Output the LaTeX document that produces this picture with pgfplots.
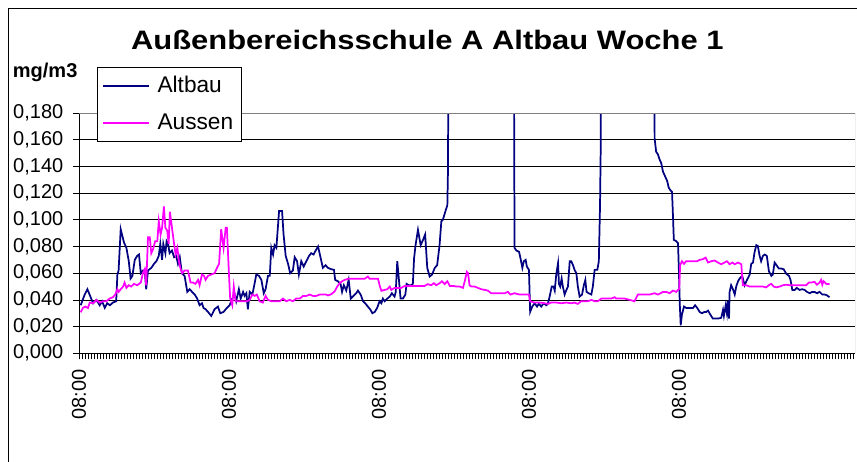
\documentclass[border=0pt]{standalone}
\usepackage{pgfplots}
\pgfplotsset{compat=1.18}
\usepackage{fontspec}
\setmainfont{Liberation Sans}
\definecolor{altbau}{RGB}{0,0,128}
\definecolor{aussen}{RGB}{255,0,255}
\begin{document}
\begin{tikzpicture}
\useasboundingbox (0,0) rectangle (642.75pt,345.75pt);
\draw[line width=0.75pt] (6pt,-5pt) -- (6pt,339pt) -- (650pt,339pt);
\node[anchor=base, inner sep=0pt, font=\bfseries\fontsize{20}{24}\selectfont] at (320.5pt,308.25pt) {\scalebox{1.16}[1]{Außenbereichsschule A Altbau Woche 1}};
\node[anchor=base west, inner sep=0pt, font=\bfseries\fontsize{15}{18}\selectfont] at (9.5pt,287.5pt) {mg/m3};
\begin{axis}[
  at={(59.25pt,80.78pt)}, anchor=south west,
  scale only axis, width=582pt, height=180.2pt,
  xmin=0, xmax=258.7, ymin=0, ymax=0.18,
  axis line style={draw=none},
  tick align=outside,
  xtick pos=bottom, ytick pos=left,
  xtick={0,50,100,150,200},
  xticklabels={08:00,08:00,08:00,08:00,08:00},
  minor xtick={0,1,...,258},
  ytick={0,0.02,0.04,0.06,0.08,0.1,0.12,0.14,0.16,0.18},
  yticklabels={{0,000},{0,020},{0,040},{0,060},{0,080},{0,100},{0,120},{0,140},{0,160},{0,180}},
  major tick length=4.5pt, minor tick length=4.5pt,
  every tick/.style={black, line width=0.6pt},
  minor tick style={black, line width=0.6pt},
  ymajorgrids, major grid style={black, line width=0.6pt},
  tick label style={font=\fontsize{15}{18}\selectfont},
  xticklabel style={rotate=90, anchor=east},
  xticklabel shift=4pt,
  yticklabel shift=3.75pt,
  clip=true,
  legend style={at={(0.0228,1.1927)}, anchor=north west, draw=black, line width=0.75pt, fill=white,
    font=\fontsize{17}{20}\selectfont, inner xsep=4pt, inner ysep=5pt, row sep=10.5pt,
    /tikz/every odd column/.append style={column sep=4pt}},
  legend cell align=left,
  legend image code/.code={\draw[#1] (0pt,0pt) -- (34pt,0pt);},
]
\addplot[altbau, line width=1.3pt] coordinates {
(0.56,0.036) (1.9,0.044) (2.8,0.048) (3.7,0.043) (4.7,0.0375) (5.8,0.040) (6.9,0.036) (7.7,0.039) (8.6,0.034) (9.4,0.0375) (10.3,0.036) (11.3,0.038) (12.4,0.039) (12.8,0.059) (13.2,0.062) (13.9,0.093) (15.0,0.083) (15.8,0.079) (16.6,0.069) (17.2,0.056) (17.8,0.058) (18.6,0.070) (19.4,0.073) (20.0,0.074) (20.6,0.060) (21.3,0.062) (21.9,0.062) (22.4,0.048) (23.0,0.062) (24.1,0.064) (25.0,0.067) (25.8,0.069) (26.6,0.073) (27.1,0.082) (27.7,0.070) (28.1,0.082) (28.8,0.075) (29.2,0.084) (29.7,0.082) (30.2,0.075) (31.0,0.077) (31.7,0.072) (32.4,0.073) (33.0,0.067) (33.6,0.072) (34.3,0.060) (35.2,0.058) (36.1,0.046) (36.9,0.048) (37.7,0.046) (38.6,0.044) (39.4,0.041) (40.2,0.036) (41.0,0.0375)
(41.5,0.034) (42.2,0.033) (43,0.031) (44.1,0.028) (45.2,0.033) (46.3,0.035) (47.1,0.030) (48.2,0.031) (49.3,0.034) (50.2,0.036) (51.1,0.041) (51.9,0.044) (52.4,0.039) (53.3,0.048) (53.9,0.041) (54.7,0.046) (55.2,0.043) (55.8,0.045) (56.3,0.033) (56.9,0.046) (57.8,0.044) (58.6,0.053) (59.1,0.059) (60,0.058) (60.8,0.055) (61.6,0.045) (62.2,0.048) (63,0.058) (63.6,0.058) (64.1,0.079) (64.7,0.074) (65.2,0.081) (65.8,0.079) (66.7,0.1066) (67.7,0.1066) (68.2,0.089) (68.9,0.073) (69.7,0.067) (70.4,0.060) (71.3,0.062) (71.9,0.072) (72.7,0.069) (73.3,0.059) (74.1,0.069) (74.9,0.065) (75.8,0.069) (76.7,0.073) (77.4,0.075) (78.2,0.074) (78.9,0.077) (79.7,0.080) (80.4,0.073) (81.3,0.064) (82.2,0.066)
(83.0,0.064) (84.1,0.063) (85,0.0625) (85.4,0.055) (86.3,0.054) (87.2,0.052) (87.7,0.046) (88.3,0.051) (89.1,0.047) (89.9,0.055) (90.6,0.041) (91.3,0.0425) (92.4,0.045) (93,0.047) (93.9,0.044) (94.7,0.039) (95.4,0.0375) (96.3,0.035) (97.2,0.0325) (97.8,0.030) (98.6,0.031) (99.4,0.034) (100.2,0.039) (100.8,0.0375) (101.3,0.041) (101.9,0.039) (102.8,0.041) (103.6,0.0425) (104.3,0.045) (105.2,0.0425) (105.6,0.046) (106.1,0.069) (106.7,0.054) (107.2,0.041) (108,0.041) (108.8,0.044) (109.2,0.052) (109.9,0.051) (110.8,0.051) (111.3,0.052) (111.7,0.071) (112.2,0.081) (113,0.0925) (113.9,0.081) (114.7,0.085) (115.4,0.089) (116.1,0.064) (116.9,0.0575) (117.7,0.059) (118.6,0.064) (119.4,0.066) (120.2,0.081) (120.8,0.099) (121.3,0.100) (122.1,0.106) (122.8,0.111) (123.0,0.136) (123.7,0.5) (144.6,0.5)
(145.2,0.079) (145.8,0.077) (146.7,0.076) (147.2,0.071) (147.8,0.064) (148.3,0.069) (148.9,0.070) (149.3,0.065) (150,0.0625) (150.4,0.031) (151.1,0.035) (151.9,0.0375) (152.7,0.035) (153.3,0.037) (154.1,0.035) (154.9,0.0375) (155.8,0.036) (156.3,0.037) (156.9,0.0425) (157.6,0.050) (158.2,0.050) (158.6,0.047) (159.1,0.059) (159.7,0.0675) (160,0.052) (160.4,0.050) (160.9,0.056) (161.3,0.050) (161.9,0.044) (162.4,0.047) (163,0.050) (163.6,0.069) (164.1,0.069) (164.7,0.066) (165.2,0.0625) (165.8,0.060)
(166.3,0.050) (166.9,0.0425) (167.7,0.044) (168.3,0.051) (168.8,0.055) (169.2,0.046) (169.9,0.045) (170.8,0.044) (171.3,0.050) (171.9,0.0625) (172.8,0.0625) (173.3,0.069) (173.7,0.111) (173.9,0.149) (174.3,0.5) (191.5,0.5) (191.9,0.161) (192.4,0.151) (193.0,0.149) (193.6,0.145) (194.1,0.1425) (194.7,0.136) (195.4,0.1325) (196.1,0.129) (196.6,0.124) (197.2,0.122) (197.7,0.121) (198.0,0.104) (198.3,0.085) (199.1,0.084) (199.7,0.0825) (200.0,0.061) (200.3,0.036) (200.6,0.021) (201.0,0.029) (201.7,0.035) (202.4,0.034) (203.6,0.034) (204.7,0.034) (205.4,0.036) (206.1,0.034) (206.9,0.031) (207.7,0.030)
(208.5,0.031) (209.1,0.031) (209.7,0.032) (210.2,0.030) (211.3,0.026) (213,0.026) (214.1,0.0266) (214.7,0.0325) (215,0.028) (215.6,0.036) (216,0.030) (216.3,0.039) (216.7,0.026) (216.9,0.046) (217.4,0.051) (218,0.048) (218.6,0.044) (219.1,0.050) (219.7,0.054) (220.4,0.0565) (221.1,0.058) (221.9,0.051) (222.7,0.055) (223.6,0.059) (224.1,0.067) (224.7,0.068) (225.2,0.0755) (225.8,0.081) (226.3,0.0805) (226.9,0.073) (227.4,0.069) (228,0.073) (228.6,0.074) (229.3,0.073) (230,0.0615) (230.8,0.058) (231.3,0.059) (231.9,0.068) (232.4,0.0665) (233.3,0.0635) (234.1,0.0635) (234.9,0.063) (235.8,0.0595) (236.7,0.058) (237.2,0.055) (237.8,0.0475) (238.6,0.0475) (239.3,0.049) (240.2,0.0475) (241.1,0.048) (241.9,0.0475) (242.7,0.046) (243.6,0.045) (244.4,0.046) (245.2,0.046) (246,0.045) (246.9,0.046) (247.8,0.044) (248.6,0.044) (249.3,0.0435) (250.2,0.042)
};
\addlegendentry{Altbau}
\addplot[aussen, line width=1.3pt] coordinates {
(0.56,0.0307) (1.3,0.034) (2.1,0.035) (3.0,0.034) (3.6,0.038) (4.7,0.0375) (5.8,0.040) (6.9,0.038) (8.0,0.039) (9.1,0.039) (10.2,0.041) (11.3,0.042) (12.1,0.044) (12.8,0.048) (13.2,0.046) (13.9,0.048) (14.7,0.050) (15.2,0.053) (15.8,0.049) (16.6,0.051) (17.4,0.050) (18.3,0.052) (19.4,0.051) (20.6,0.053) (21.3,0.060) (21.9,0.063) (22.4,0.051) (23.0,0.087) (23.6,0.087) (24.1,0.075) (24.7,0.078) (25.4,0.084) (26.1,0.084) (26.6,0.099) (27.2,0.089) (27.7,0.094) (28.3,0.110) (28.8,0.094) (29.4,0.092) (29.9,0.082) (30.3,0.106) (31.0,0.094) (31.7,0.082) (32.2,0.074) (32.8,0.079) (33.3,0.069) (33.9,0.063) (34.4,0.060) (35.2,0.062) (36.3,0.062) (37.2,0.053) (38.0,0.053) (38.8,0.052) (39.7,0.055) (40.2,0.051) (41.0,0.059) (41.7,0.058)
(42.2,0.055) (43,0.058) (44.1,0.059) (45.2,0.060) (46,0.064) (46.7,0.067) (47.4,0.093) (48.2,0.079) (48.9,0.094) (49.3,0.094) (50,0.059) (50.4,0.041) (51.1,0.036) (51.6,0.050) (52.2,0.039) (53.6,0.039) (55.2,0.039) (56,0.039) (56.9,0.040) (57.8,0.044) (58.6,0.043) (59.3,0.044) (60.2,0.039) (61.3,0.038) (62.2,0.043) (63,0.040) (64.1,0.039) (65.2,0.039) (66.9,0.039) (68,0.041) (69.1,0.039) (70.2,0.040) (71.3,0.039) (72.4,0.041) (73.6,0.041) (74.7,0.043) (75.8,0.043) (76.9,0.044) (78,0.043) (79.1,0.043) (80.2,0.044) (81.3,0.044) (82.4,0.044)
(83,0.0433) (84.1,0.0443) (85.2,0.0463) (86.1,0.050) (86.9,0.0525) (87.7,0.054) (88.6,0.055) (89.7,0.0558) (90.8,0.0558) (91.9,0.0558) (93.6,0.0558) (95.2,0.0558) (96.3,0.0575) (96.9,0.0558) (98.6,0.0558) (99.7,0.0558) (100.2,0.051) (100.8,0.0468) (101.9,0.0475) (102.8,0.048) (103.6,0.050) (104.1,0.0475) (105.2,0.049) (106.3,0.049) (107.4,0.049) (108.6,0.0505) (109.7,0.0505) (110.8,0.0505) (111.9,0.0505) (113,0.0505) (114.1,0.0505) (115.2,0.0505) (116.3,0.0518) (117.4,0.051) (118.3,0.0525) (119.1,0.051) (120.2,0.0525) (121,0.054) (121.9,0.0518) (122.8,0.054) (123.6,0.0505)
(124.7,0.0505) (125.8,0.050) (126.9,0.050) (128,0.049) (128.6,0.054) (129.3,0.061) (129.7,0.060) (130.2,0.051) (130.8,0.050) (131.9,0.050) (133,0.049) (134.1,0.048) (135.2,0.0475) (136.3,0.047) (137.4,0.045) (138.6,0.045) (140.2,0.045) (141.9,0.045) (143,0.046) (143.8,0.044) (145.2,0.045) (146.9,0.044) (148.6,0.044) (150,0.044) (150.4,0.039) (151.9,0.038) (153.6,0.038) (155.2,0.0375) (156.3,0.037) (157.4,0.038) (159.1,0.038) (160.8,0.0375) (162.4,0.038) (164.1,0.0375) (165.2,0.038)
(166.3,0.037) (167.4,0.039) (168.6,0.039) (169.7,0.039) (170.8,0.040) (171.9,0.039) (173,0.039) (174.1,0.041) (175.2,0.041) (176.3,0.041) (177.4,0.041) (178.6,0.042) (179.1,0.041) (180.2,0.041) (181.9,0.041) (183.6,0.040) (185.2,0.039) (186.3,0.044) (187.4,0.044) (188.6,0.044) (190.2,0.044) (191.9,0.045) (193,0.044) (194.7,0.046) (195.8,0.046) (196.9,0.045) (198,0.047) (199.1,0.046) (199.7,0.0475) (200.1,0.048) (200.4,0.066) (201,0.069) (201.7,0.067) (202.4,0.069) (203.6,0.069) (204.7,0.069) (206.1,0.069) (206.9,0.070)
(208,0.0705) (208.9,0.0717) (209.7,0.068) (210.8,0.069) (211.9,0.0695) (213,0.068) (214.1,0.0667) (215.2,0.068) (216,0.069) (216.9,0.0667) (217.8,0.068) (218.6,0.0667) (219.7,0.068) (220.8,0.0667) (221.1,0.0565) (221.3,0.051) (222.4,0.051) (223.6,0.050) (224.7,0.050) (225.8,0.050) (226.9,0.050) (228,0.050) (229.1,0.0494) (230.2,0.0514) (230.8,0.052) (231.6,0.050) (232.4,0.0494) (233.6,0.050) (234.7,0.051) (235.8,0.0514) (236.9,0.051) (238,0.051) (239.1,0.051) (240.2,0.051) (241.3,0.051) (242.4,0.051) (243.3,0.053) (244.1,0.053) (245.2,0.0535) (246,0.0514) (246.9,0.053) (247.4,0.055) (247.8,0.0514) (248.2,0.054) (249.1,0.052) (250.2,0.052)
};
\addlegendentry{Aussen}
\draw[black, line width=0.75pt] (rel axis cs:0,1) -- (rel axis cs:0,0) -- (rel axis cs:1,0);
\draw[gray, line width=0.75pt] (rel axis cs:0,1) -- (rel axis cs:1,1) -- (rel axis cs:1,0);
\end{axis}
\end{tikzpicture}
\end{document}
